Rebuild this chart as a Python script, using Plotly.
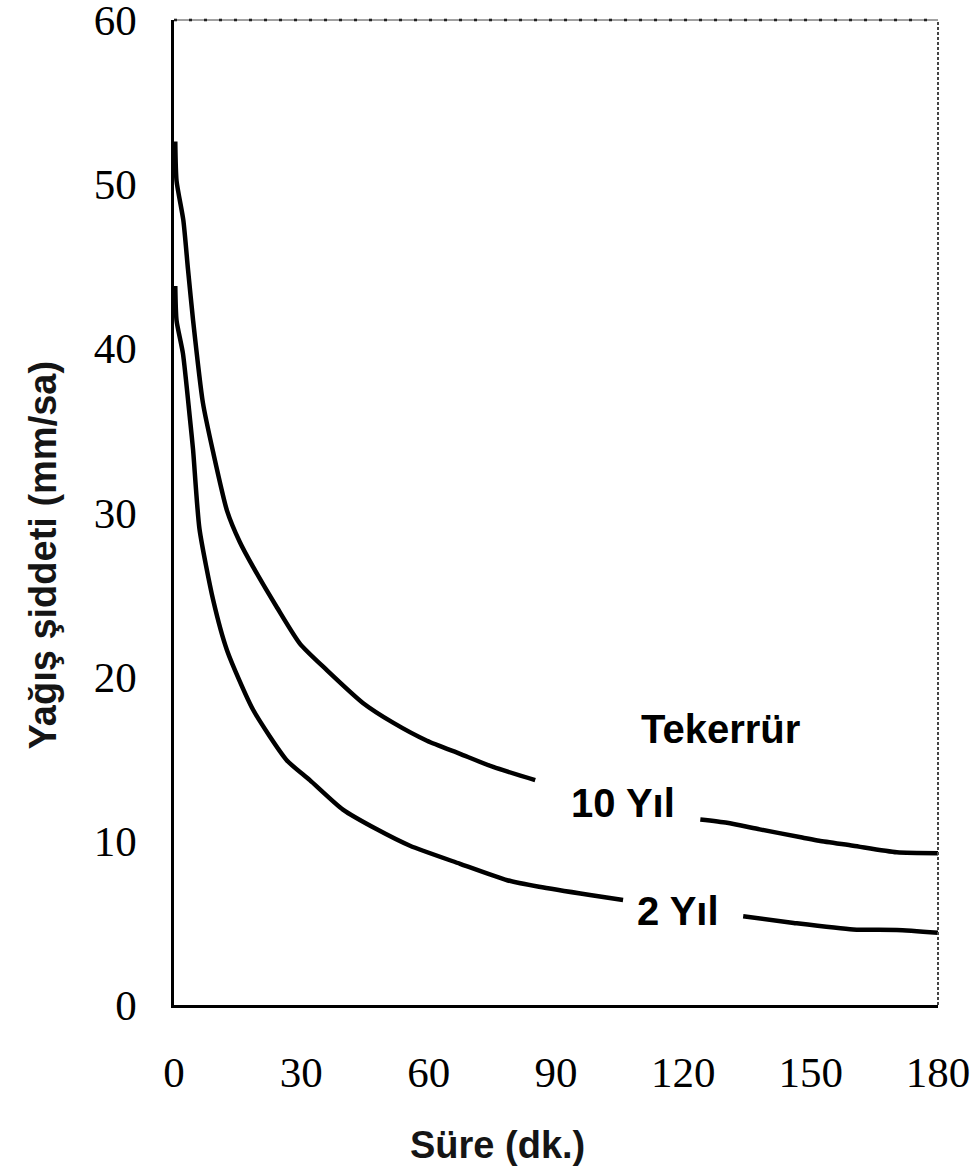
import plotly.graph_objects as go

# Süre (dk.) and intensity (mm/sa); None = gap for label
x_10 = [0.3, 0.6, 2.2, 3.3, 4.5, 6.8, 9.2, 12.5, 15.5, 18.6, 24.3, 29.7, 36, 44.5, 51.6, 59.6, 67.4, 75.2, 85.1,
        None, 124, 130.3, 138, 148, 152, 160, 170.3, 180]
y_10 = [52.6, 50.2, 47.8, 44.8, 41.7, 36.7, 33.7, 30.1, 28.2, 26.7, 24.2, 22.0, 20.4, 18.4, 17.2, 16.1, 15.3, 14.5, 13.7,
        None, 11.3, 11.1, 10.7, 10.2, 10.0, 9.7, 9.3, 9.25]

x_2 = [0.3, 0.6, 2.1, 3.8, 4.5, 6.0, 9.2, 12.5, 18.6, 26.6, 32, 39.8, 47.8, 55.6, 67.4, 78.5, 86, 98, 105.8,
       None, 134.1, 146, 160, 170.3, 180]
y_2 = [43.8, 41.7, 39.7, 35.6, 33.8, 29.0, 24.7, 21.6, 18.0, 14.9, 13.7, 11.9, 10.7, 9.7, 8.6, 7.6, 7.2, 6.7, 6.4,
       None, 5.4, 5.0, 4.6, 4.57, 4.4]

x_ticks = [0, 30, 60, 90, 120, 150, 180]
y_ticks = [0, 10, 20, 30, 40, 50, 60]

labels = ["Tekerrür", "10 Yıl", "2 Yıl"]
label_x = [128.7, 105.7, 118.8]
label_y = [16.8, 12.3, 5.7]

fig = go.Figure()
for xs, ys, name in [(x_10, y_10, "10 Yıl"), (x_2, y_2, "2 Yıl")]:
    fig.add_trace(go.Scatter(x=xs, y=ys, mode="lines", name=name,
                             line=dict(color="black", width=4.5, shape="spline", smoothing=0.6),
                             connectgaps=False, showlegend=False))

for t, lx, ly in zip(labels, label_x, label_y):
    fig.add_annotation(x=lx, y=ly, text=f"<b>{t}</b>", showarrow=False,
                       font=dict(family="Liberation Sans, Arial", size=40, color="black"),
                       xanchor="center", yanchor="middle")

# axis titles
fig.add_annotation(xref="paper", yref="paper", x=0.424, y=-0.142, text="<b>Süre (dk.)</b>",
                   showarrow=False, xanchor="center", yanchor="middle",
                   font=dict(family="Liberation Sans, Arial", size=38, color="#151515"))
fig.add_annotation(xref="paper", yref="paper", x=-0.172, y=0.457, text="<b>Yağış şiddeti (mm/sa)</b>",
                   showarrow=False, xanchor="center", yanchor="middle", textangle=-90,
                   font=dict(family="Liberation Sans, Arial", size=38, color="#151515"))

# top (dotted) and right (fine dashed) frame
fig.add_shape(type="line", xref="paper", yref="paper", x0=0, x1=1, y0=1, y1=1,
              line=dict(color="black", width=2.5, dash="3px,12px"))
fig.add_shape(type="line", xref="paper", yref="paper", x0=0, x1=1, y0=1, y1=1,
              line=dict(color="#444", width=1))
fig.add_shape(type="line", xref="paper", yref="paper", x0=1, x1=1, y0=0, y1=1,
              line=dict(color="#444", width=2, dash="3px,2px"))

tick_font = dict(family="Liberation Serif, Times New Roman", size=43, color="black")
fig.update_xaxes(range=[0, 180], tickvals=x_ticks, ticktext=[str(v) for v in x_ticks],
                 showgrid=False, zeroline=False, showline=True, linecolor="black", linewidth=2.5,
                 ticks="", tickfont=tick_font, ticklabelstandoff=28, ticklabeloverflow="allow",
                 automargin=False)
fig.update_yaxes(range=[0, 60], tickvals=y_ticks, ticktext=[str(v) for v in y_ticks],
                 showgrid=False, zeroline=False, showline=True, linecolor="black", linewidth=2.5,
                 ticks="", tickfont=tick_font, ticklabelstandoff=26, ticklabeloverflow="allow",
                 automargin=False)

fig.update_layout(width=979, height=1170, plot_bgcolor="white", paper_bgcolor="white",
                  margin=dict(l=174, r=41, t=20, b=165), showlegend=False)

fig.write_html("out.html", config={"displayModeBar": False},
               post_script="document.body.style.margin='0';document.body.style.padding='0';")
